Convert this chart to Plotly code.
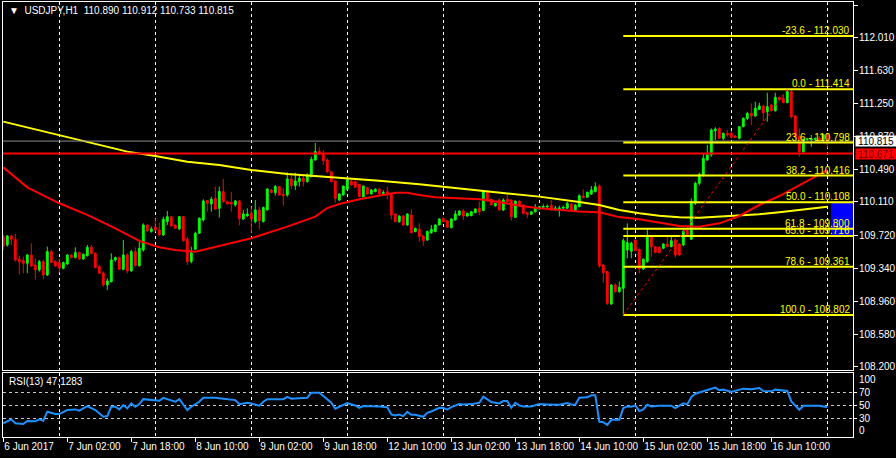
import plotly.graph_objects as go

# ---------------- data ----------------
symbol = "USDJPY,H1"
bars = list(range(207))

opens = [
    109.709, 109.613, 109.717, 109.678, 109.447, 109.431, 109.400, 109.497, 109.381, 109.323,
    109.420, 109.265, 109.535, 109.420, 109.408, 109.342, 109.393, 109.497, 109.466, 109.524,
    109.450, 109.489, 109.586, 109.516, 109.362, 109.288, 109.150, 109.188, 109.439, 109.466,
    109.331, 109.497, 109.312, 109.535, 109.373, 109.555, 109.844, 109.767, 109.817, 109.786,
    109.728, 109.883, 109.940, 109.844, 109.798, 109.940, 109.678, 109.420, 109.562, 109.748,
    109.902, 110.126, 110.087, 110.153, 110.037, 110.230, 110.114, 110.106, 110.075, 110.122,
    109.913, 109.948, 109.979, 109.883, 110.018, 109.883, 110.018, 110.249, 110.218, 110.288,
    110.199, 110.191, 110.376, 110.299, 110.346, 110.384, 110.346, 110.403, 110.596, 110.697,
    110.673, 110.596, 110.461, 110.353, 110.133, 110.191, 110.256, 110.353, 110.345, 110.314,
    110.172, 110.276, 110.202, 110.229, 110.260, 110.210, 110.229, 110.199, 109.971, 109.882,
    109.948, 109.844, 109.959, 109.767, 109.794, 109.716, 109.670, 109.755, 109.767, 109.844,
    109.921, 109.894, 109.813, 109.902, 109.959, 110.006, 109.948, 109.952, 109.986, 110.037,
    110.010, 110.229, 110.141, 110.064, 110.133, 110.017, 110.141, 110.133, 109.932, 110.121,
    110.075, 109.986, 109.967, 109.998, 110.029, 110.048, 110.052, 110.071, 110.029, 110.033,
    110.040, 110.037, 110.087, 110.010, 110.056, 110.179, 110.164, 110.202, 110.229, 110.295,
    109.381, 109.304, 108.929, 109.149, 109.072, 109.111, 109.554, 109.540, 109.670, 109.562,
    109.335, 109.419, 109.709, 109.593, 109.585, 109.574, 109.624, 109.593, 109.670, 109.624,
    109.612, 109.778, 109.678, 110.095, 110.326, 110.422, 110.596, 110.654, 110.935, 110.962,
    110.847, 110.905, 110.905, 110.874, 110.847, 110.982, 111.078, 111.136, 111.105, 111.182,
    111.221, 111.155, 111.233, 111.167, 111.321, 111.310, 111.260, 111.387, 111.105, 110.874,
    110.692, 110.835, 110.830, 110.835, 110.850, 110.830, 110.890,
]
highs = [
    109.728, 109.728, 109.728, 109.740, 109.489, 109.478, 109.505, 109.632, 109.458, 109.439,
    109.439, 109.593, 109.555, 109.439, 109.458, 109.420, 109.505, 109.505, 109.586, 109.535,
    109.512, 109.613, 109.613, 109.524, 109.381, 109.304, 109.227, 109.516, 109.478, 109.478,
    109.670, 109.516, 109.555, 109.586, 109.651, 109.863, 109.850, 109.825, 109.921, 109.871,
    109.940, 110.006, 109.948, 109.850, 109.948, 109.948, 109.709, 109.593, 109.767, 109.933,
    110.141, 110.133, 110.172, 110.288, 110.288, 110.376, 110.125, 110.226, 110.133, 110.133,
    110.018, 110.037, 110.056, 110.133, 110.056, 110.056, 110.268, 110.260, 110.307, 110.295,
    110.268, 110.454, 110.442, 110.450, 110.423, 110.423, 110.442, 110.635, 110.793, 110.743,
    110.712, 110.616, 110.470, 110.360, 110.210, 110.300, 110.403, 110.372, 110.360, 110.320,
    110.300, 110.287, 110.260, 110.270, 110.270, 110.245, 110.287, 110.210, 109.980, 109.955,
    109.960, 109.980, 110.025, 109.812, 109.863, 109.728, 109.780, 109.844, 109.850, 109.920,
    109.930, 109.900, 109.920, 110.010, 110.015, 110.029, 109.985, 110.005, 110.035, 110.114,
    110.241, 110.241, 110.150, 110.100, 110.152, 110.152, 110.202, 110.141, 110.125, 110.128,
    110.083, 109.998, 110.003, 110.087, 110.064, 110.083, 110.083, 110.133, 110.064, 110.067,
    110.070, 110.114, 110.095, 110.083, 110.199, 110.256, 110.230, 110.295, 110.338, 110.314,
    109.392, 109.315, 109.160, 109.169, 109.190, 109.689, 109.863, 109.650, 109.680, 109.574,
    109.458, 109.794, 109.720, 109.600, 109.601, 109.630, 109.716, 109.728, 109.689, 109.632,
    109.786, 109.805, 110.152, 110.345, 110.450, 110.673, 110.770, 110.962, 110.974, 110.975,
    110.912, 110.943, 110.935, 110.885, 110.990, 111.090, 111.155, 111.252, 111.271, 111.260,
    111.233, 111.375, 111.245, 111.375, 111.330, 111.348, 111.414, 111.406, 111.117, 110.962,
    110.847, 110.850, 110.885, 110.860, 110.874, 110.900, 110.912,
]
lows = [
    109.555, 109.593, 109.613, 109.420, 109.273, 109.285, 109.285, 109.362, 109.215, 109.304,
    109.215, 109.254, 109.400, 109.362, 109.292, 109.331, 109.381, 109.458, 109.458, 109.440,
    109.440, 109.478, 109.505, 109.342, 109.277, 109.130, 109.092, 109.177, 109.420, 109.323,
    109.323, 109.285, 109.304, 109.362, 109.362, 109.535, 109.767, 109.755, 109.767, 109.717,
    109.717, 109.844, 109.825, 109.800, 109.786, 109.651, 109.381, 109.400, 109.555, 109.740,
    109.883, 109.998, 109.998, 110.018, 109.929, 110.102, 110.080, 109.998, 110.056, 109.840,
    109.902, 109.940, 109.755, 109.863, 109.794, 109.871, 110.010, 110.210, 110.184, 110.185,
    110.068, 110.172, 110.257, 110.249, 110.288, 110.288, 110.334, 110.396, 110.589, 110.654,
    110.538, 110.442, 110.338, 110.102, 110.121, 110.183, 110.249, 110.300, 110.276, 110.164,
    110.164, 110.195, 110.195, 110.222, 110.195, 110.195, 110.141, 109.909, 109.875, 109.870,
    109.835, 109.835, 109.747, 109.760, 109.651, 109.601, 109.660, 109.740, 109.760, 109.838,
    109.875, 109.810, 109.805, 109.894, 109.952, 109.902, 109.940, 109.945, 109.980, 109.959,
    110.006, 110.114, 110.070, 110.060, 110.010, 110.006, 110.102, 109.894, 109.925, 110.070,
    109.971, 109.921, 109.960, 109.986, 110.025, 110.037, 110.037, 110.010, 110.006, 109.940,
    110.020, 110.029, 110.010, 110.005, 110.048, 110.152, 110.160, 110.191, 110.222, 109.350,
    109.176, 108.918, 108.920, 109.061, 109.061, 108.802, 109.458, 109.458, 109.540, 109.284,
    109.323, 109.408, 109.477, 109.520, 109.516, 109.565, 109.585, 109.585, 109.470, 109.485,
    109.601, 109.709, 109.670, 110.075, 110.300, 110.403, 110.588, 110.635, 110.827, 110.840,
    110.827, 110.866, 110.847, 110.850, 110.835, 110.975, 111.059, 111.001, 111.098, 111.175,
    111.047, 111.040, 111.160, 111.155, 111.290, 111.252, 111.252, 111.078, 110.847, 110.635,
    110.673, 110.820, 110.750, 110.820, 110.789, 110.800, 110.733,
]
closes = [
    109.600, 109.717, 109.678, 109.439, 109.420, 109.400, 109.497, 109.369, 109.323, 109.420,
    109.265, 109.535, 109.408, 109.369, 109.346, 109.408, 109.497, 109.466, 109.524, 109.450,
    109.505, 109.586, 109.512, 109.350, 109.285, 109.150, 109.196, 109.439, 109.466, 109.331,
    109.497, 109.312, 109.535, 109.373, 109.574, 109.844, 109.775, 109.798, 109.786, 109.728,
    109.910, 109.940, 109.832, 109.805, 109.940, 109.663, 109.420, 109.524, 109.748, 109.921,
    110.122, 110.095, 110.141, 110.029, 110.230, 110.114, 110.087, 110.087, 110.122, 109.917,
    109.971, 109.971, 109.913, 110.018, 109.894, 110.045, 110.261, 110.218, 110.288, 110.191,
    110.184, 110.376, 110.299, 110.353, 110.384, 110.346, 110.423, 110.604, 110.693, 110.662,
    110.589, 110.461, 110.345, 110.152, 110.202, 110.295, 110.372, 110.307, 110.280, 110.172,
    110.295, 110.202, 110.249, 110.256, 110.202, 110.220, 110.191, 109.959, 109.882, 109.948,
    109.844, 109.971, 109.755, 109.805, 109.709, 109.662, 109.767, 109.794, 109.844, 109.913,
    109.882, 109.817, 109.913, 109.971, 110.006, 109.948, 109.979, 109.998, 110.029, 109.998,
    110.229, 110.133, 110.075, 110.094, 110.017, 110.133, 110.114, 109.940, 110.121, 110.075,
    109.979, 109.967, 109.998, 110.037, 110.056, 110.056, 110.060, 110.017, 110.037, 110.040,
    110.048, 110.094, 110.017, 110.075, 110.183, 110.164, 110.222, 110.249, 110.287, 109.369,
    109.292, 108.937, 109.149, 109.072, 109.122, 109.662, 109.639, 109.632, 109.547, 109.335,
    109.446, 109.709, 109.593, 109.524, 109.524, 109.624, 109.593, 109.662, 109.497, 109.497,
    109.767, 109.728, 110.114, 110.326, 110.430, 110.615, 110.654, 110.943, 110.955, 110.847,
    110.905, 110.885, 110.858, 110.858, 110.982, 111.078, 111.136, 111.105, 111.194, 111.221,
    111.144, 111.213, 111.167, 111.321, 111.298, 111.260, 111.387, 111.098, 110.866, 110.692,
    110.835, 110.840, 110.840, 110.845, 110.830, 110.890, 110.815,
]

# moving averages
ma_slow_bars = [0, 14, 31, 38, 46, 54, 62, 71, 81, 94, 104, 114, 124, 134, 144, 149, 154, 159,
                164, 169, 174, 179, 184, 189, 194, 199, 204, 206]
ma_slow_vals = [111.040, 110.886, 110.693, 110.643, 110.577, 110.538, 110.481, 110.434, 110.403,
                110.357, 110.314, 110.268, 110.222, 110.172, 110.110, 110.075, 110.017, 109.979,
                109.952, 109.932, 109.928, 109.940, 109.952, 109.967, 109.990, 110.017, 110.044,
                110.056]
ma_fast_bars = [0, 6, 14, 21, 28, 34, 39, 43, 48, 54, 62, 71, 78, 81, 84, 89, 94, 98, 101, 104,
                108, 114, 119, 124, 129, 134, 139, 144, 149, 152, 154, 159, 164, 169, 174, 179,
                184, 189, 194, 199, 203, 206]
ma_fast_vals = [110.511, 110.280, 110.095, 109.960, 109.805, 109.659, 109.586, 109.555, 109.535,
                109.601, 109.690, 109.825, 109.940, 110.040, 110.087, 110.141, 110.179, 110.218,
                110.218, 110.191, 110.164, 110.156, 110.141, 110.110, 110.067, 110.037, 110.017,
                110.000, 109.990, 109.959, 109.935, 109.909, 109.871, 109.832, 109.824, 109.863,
                109.948, 110.075, 110.179, 110.307, 110.403, 110.480]

# RSI(13)
rsi_bars = [0, 2, 3, 5, 6, 8, 9, 10, 11, 13,
            14, 16, 18, 19, 21, 23, 25, 26, 27, 28,
            29, 30, 31, 32, 33, 34, 35, 37, 39, 40,
            42, 43, 44, 46, 47, 49, 50, 53, 55, 57,
            58, 59, 61, 62, 64, 65, 66, 68, 70, 71,
            72, 74, 76, 77, 79, 80, 82, 83, 84, 86,
            88, 89, 90, 93, 94, 96, 97, 98, 99, 100,
            101, 102, 103, 105, 106, 107, 109, 110, 111, 112,
            114, 115, 117, 119, 120, 122, 124, 125, 126, 127,
            128, 129, 130, 132, 134, 136, 139, 141, 142, 143,
            144, 146, 147, 148, 149, 150, 151, 152, 154, 155,
            156, 157, 158, 159, 160, 161, 162, 164, 167, 168,
            170, 171, 172, 173, 175, 177, 178, 179, 180, 182,
            184, 185, 187, 189, 190, 192, 193, 195, 196, 197,
            199, 200, 202, 204, 206]
rsi_vals = [22.7, 28.7, 22.7, 21.6, 26.2, 25.7, 28.7, 26.7, 40.4, 36.8,
            36.8, 42.9, 43.9, 41.9, 49.0, 42.9, 32.8, 33.8, 48.0, 48.0,
            43.9, 50.5, 45.4, 53.0, 48.0, 52.0, 59.6, 58.1, 57.1, 61.6,
            58.1, 55.6, 59.6, 42.9, 48.0, 55.6, 61.6, 61.6, 60.1, 58.1,
            58.1, 52.0, 54.0, 53.0, 49.5, 55.6, 59.6, 59.6, 59.6, 63.2,
            60.3, 61.0, 61.8, 69.5, 69.5, 64.4, 54.1, 44.9, 48.0, 53.6,
            50.0, 46.4, 49.0, 49.0, 48.5, 47.4, 36.2, 34.6, 36.0, 33.6,
            40.3, 35.6, 35.6, 32.6, 38.7, 40.8, 46.4, 45.9, 43.8, 47.4,
            52.0, 51.5, 52.0, 54.1, 63.3, 55.1, 53.0, 56.7, 56.7, 46.4,
            54.1, 50.0, 48.5, 48.5, 52.0, 51.5, 51.0, 53.6, 51.5, 51.0,
            61.8, 62.3, 65.5, 65.4, 25.4, 24.4, 20.3, 28.0, 28.0, 45.9,
            48.5, 48.0, 50.0, 41.3, 43.8, 51.0, 48.5, 49.5, 49.5, 45.9,
            53.1, 51.5, 62.8, 67.9, 71.5, 74.6, 77.2, 73.1, 74.1, 70.5,
            73.6, 75.6, 74.6, 76.7, 72.0, 71.5, 74.1, 73.1, 72.0, 56.2,
            43.3, 49.5, 49.5, 49.5, 47.1283]
rsi_levels = [70, 50, 30]

# Fibonacci retracement
fib_levels = [-23.6, 0.0, 23.6, 38.2, 50.0, 61.8, 65.0, 78.6, 100.0]
fib_prices = [112.030, 111.414, 110.798, 110.416, 110.108, 109.800, 109.716, 109.361, 108.802]
fib_low_bar, fib_high_bar = 155, 196

# horizontal lines and zone
bid_price = 110.815
level_price = 110.671
zone_start_bar = 206.9
zone_low, zone_high = 109.728, 110.102

# axis ticks
price_ticks = [112.390, 112.010, 111.630, 111.250, 110.870, 110.490, 110.110,
               109.720, 109.340, 108.960, 108.580, 108.200]
time_tick_bars = [0, 16, 32, 48, 64, 80, 96, 112, 128, 144, 160, 176, 192]
time_tick_text = ["6 Jun 2017", "7 Jun 02:00", "7 Jun 18:00", "8 Jun 10:00", "9 Jun 02:00",
                  "9 Jun 18:00", "12 Jun 10:00", "13 Jun 02:00", "13 Jun 18:00",
                  "14 Jun 10:00", "15 Jun 02:00", "15 Jun 18:00", "16 Jun 10:00"]
day_grid_bars = [14, 38, 62, 86, 110, 134, 158, 182, 206]

# ---------------- styling / layout ----------------
W, H = 896, 458
ML, MR, MT, MB = 3, 43, 2, 21
PH = H - MT - MB
FONT = "Liberation Sans, Arial, sans-serif"
FS = 10
BULL, BEAR = "#00ff00", "#ff0000"
x_lo, x_hi = -0.075, 212.425


def py(pix):
    return (H - MB - pix) / PH


fig = go.Figure()

fig.add_trace(go.Candlestick(
    x=bars, open=opens, high=highs, low=lows, close=closes,
    xaxis="x", yaxis="y",
    increasing=dict(line=dict(color=BULL, width=1), fillcolor=BULL),
    decreasing=dict(line=dict(color=BEAR, width=1), fillcolor=BEAR),
    whiskerwidth=0, showlegend=False, hoverinfo="skip"))

fig.add_trace(go.Scatter(x=ma_slow_bars, y=ma_slow_vals, mode="lines",
                         line=dict(color="#ffff00", width=2), hoverinfo="skip",
                         showlegend=False, xaxis="x", yaxis="y"))
fig.add_trace(go.Scatter(x=ma_fast_bars, y=ma_fast_vals, mode="lines",
                         line=dict(color="#ff0000", width=2), hoverinfo="skip",
                         showlegend=False, xaxis="x", yaxis="y"))

fig.add_trace(go.Scatter(x=[x_lo, x_hi], y=[bid_price, bid_price], mode="lines",
                         line=dict(color="#8c8c8c", width=1), hoverinfo="skip",
                         showlegend=False, xaxis="x", yaxis="y"))
fig.add_trace(go.Scatter(x=[x_lo, x_hi], y=[level_price, level_price], mode="lines",
                         line=dict(color="#ff0000", width=2), hoverinfo="skip",
                         showlegend=False, xaxis="x", yaxis="y"))

for p in fib_prices:
    fig.add_trace(go.Scatter(x=[fib_low_bar, x_hi], y=[p, p], mode="lines",
                             line=dict(color="#ffff00", width=2), hoverinfo="skip",
                             showlegend=False, xaxis="x", yaxis="y"))
fig.add_trace(go.Scatter(x=[fib_low_bar, fib_high_bar], y=[fib_prices[-1], fib_prices[1]],
                         mode="lines", line=dict(color="#ff0000", width=1, dash="dot"),
                         hoverinfo="skip", showlegend=False, xaxis="x", yaxis="y"))

fig.add_trace(go.Scatter(x=rsi_bars, y=rsi_vals, mode="lines",
                         line=dict(color="#1e90ff", width=2), hoverinfo="skip",
                         showlegend=False, xaxis="x2", yaxis="y2"))

annotations = []
for lvl, p in zip(fib_levels, fib_prices):
    annotations.append(dict(
        x=x_hi, y=p, xref="x", yref="y", xanchor="right", yanchor="bottom",
        xshift=-1, yshift=-2, showarrow=False, text=f"{lvl:.1f} - {p:.3f}",
        font=dict(color="#ffff00", size=FS, family=FONT)))

annotations.append(dict(
    x=1, xref="paper", y=bid_price, yref="y", xanchor="left", yanchor="middle",
    xshift=2, showarrow=False, text=f"{bid_price:.3f}", bgcolor="#ffffff",
    width=39, height=9, borderpad=0.5, align="center",
    font=dict(color="#000000", size=FS, family=FONT)))
annotations.append(dict(
    x=1, xref="paper", y=level_price, yref="y", xanchor="left", yanchor="middle",
    xshift=2, showarrow=False, text=f"{level_price:.3f}", bgcolor="#ff0000",
    width=39, height=9, borderpad=0.5, align="center",
    font=dict(color="#6a0000", size=FS, family=FONT)))

annotations.append(dict(
    x=(7 - ML) / (W - ML - MR), xref="paper", y=py(10), yref="paper",
    xanchor="left", yanchor="middle", showarrow=False,
    text=f"\u25bc  {symbol}  {opens[-1]:.3f} {highs[-1]:.3f} {lows[-1]:.3f} {closes[-1]:.3f}",
    font=dict(color="#ffffff", size=FS, family=FONT)))
annotations.append(dict(
    x=(7 - ML) / (W - ML - MR), xref="paper", y=py(381), yref="paper",
    xanchor="left", yanchor="middle", showarrow=False,
    text=f"RSI(13) {rsi_vals[-1]:.4f}",
    font=dict(color="#ffffff", size=FS, family=FONT)))
annotations.append(dict(
    x=1, xref="paper", y=py(379), yref="paper", xanchor="left", yanchor="middle",
    xshift=4, showarrow=False, text="100", font=dict(color="#ffffff", size=FS, family=FONT)))
annotations.append(dict(
    x=1, xref="paper", y=py(430), yref="paper", xanchor="left", yanchor="middle",
    xshift=4, showarrow=False, text="0", font=dict(color="#ffffff", size=FS, family=FONT)))

shapes = [dict(type="rect", xref="x", yref="y", x0=zone_start_bar, x1=x_hi,
               y0=zone_low, y1=zone_high, fillcolor="#0000ff", line=dict(width=0),
               layer="below")]

grid_minor = dict(tickmode="array", tickvals=day_grid_bars, showgrid=True,
                  gridcolor="#ffffff", griddash="3px,3px", gridwidth=1, ticks="")

axis_common = dict(showline=True, mirror=True, linecolor="#ffffff", linewidth=1,
                   zeroline=False, fixedrange=True, automargin=False)

fig.update_layout(
    width=W, height=H,
    margin=dict(l=ML, r=MR, t=MT, b=MB, pad=0, autoexpand=False),
    paper_bgcolor="#000000", plot_bgcolor="#000000",
    font=dict(family=FONT, size=FS, color="#ffffff"),
    showlegend=False, hovermode=False, boxgap=0.35,
    xaxis=dict(domain=[0, 1], range=[x_lo, x_hi], anchor="y", showticklabels=False,
               ticks="", showgrid=False, minor=grid_minor,
               rangeslider=dict(visible=False), **axis_common),
    yaxis=dict(domain=[py(370), 1], range=[108.165, 112.425], anchor="x", side="right",
               tickmode="array", tickvals=price_ticks,
               ticktext=[f"{v:.3f}" for v in price_ticks],
               ticks="outside", ticklen=4, tickcolor="#ffffff", showgrid=False,
               ticklabelstandoff=-1,
               tickfont=dict(color="#ffffff", size=FS, family=FONT), **axis_common),
    xaxis2=dict(domain=[0, 1], range=[x_lo, x_hi], anchor="y2",
                tickmode="array", tickvals=time_tick_bars, ticktext=time_tick_text,
                ticks="outside", ticklen=4, tickcolor="#ffffff", tickangle=0,
                ticklabelposition="outside right", showgrid=False, minor=grid_minor,
                tickfont=dict(color="#ffffff", size=FS, family=FONT), **axis_common),
    yaxis2=dict(domain=[0, py(373)], range=[1.8, 99.5], anchor="x2", side="right",
                tickmode="array", tickvals=rsi_levels,
                ticktext=[str(v) for v in rsi_levels],
                ticks="outside", ticklen=3, tickcolor="#ffffff",
                ticklabelstandoff=0,
                showgrid=True, gridcolor="#c8c8c8", griddash="3px,3px", gridwidth=1,
                tickfont=dict(color="#ffffff", size=FS, family=FONT), **axis_common),
    annotations=annotations,
    shapes=shapes,
)

fig.write_html(
    "out.html",
    config={"displayModeBar": False},
    post_script="document.body.style.margin='0';document.body.style.padding='0';"
                "document.body.style.overflow='hidden';document.body.style.background='#000';",
)
